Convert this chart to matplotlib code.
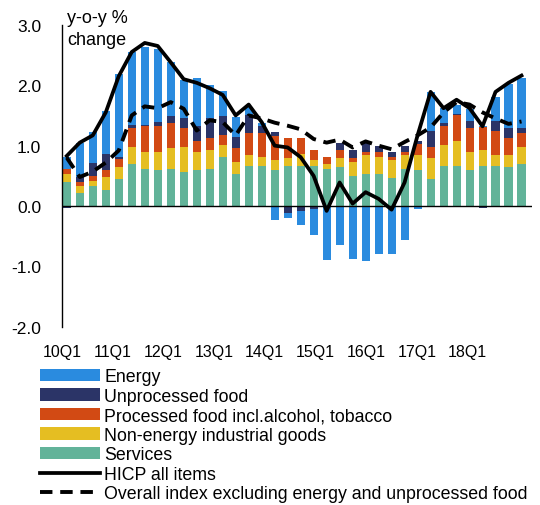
import numpy as np
import matplotlib
matplotlib.use("Agg")
import matplotlib.pyplot as plt

plt.rcParams['font.family'] = ['Liberation Sans', 'DejaVu Sans']

# ----------------------------
# Data (contributions, percentage points)
# ----------------------------
tick_labels = ["10Q1", "11Q1", "12Q1", "13Q1", "14Q1", "15Q1", "16Q1", "17Q1", "18Q1"]

services = [0.39, 0.22, 0.34, 0.27, 0.45, 0.70, 0.61, 0.59, 0.61, 0.56, 0.59, 0.61,
            0.82, 0.53, 0.67, 0.67, 0.59, 0.67, 0.67, 0.67, 0.61, 0.64, 0.50, 0.53,
            0.53, 0.47, 0.61, 0.59, 0.45, 0.67, 0.67, 0.59, 0.67, 0.67, 0.64, 0.70]
neig = [0.14, 0.12, 0.08, 0.21, 0.19, 0.28, 0.29, 0.31, 0.35, 0.42, 0.31, 0.32,
        0.19, 0.20, 0.18, 0.15, 0.17, 0.12, 0.19, 0.09, 0.09, 0.15, 0.23, 0.32,
        0.29, 0.29, 0.24, 0.25, 0.34, 0.34, 0.40, 0.31, 0.26, 0.18, 0.21, 0.28]
processed = [0.08, 0.06, 0.08, 0.11, 0.14, 0.31, 0.42, 0.43, 0.42, 0.31, 0.17, 0.20,
             0.17, 0.23, 0.36, 0.39, 0.40, 0.34, 0.27, 0.17, 0.12, 0.14, 0.06, 0.04,
             0.07, 0.05, 0.04, 0.19, 0.19, 0.31, 0.43, 0.39, 0.38, 0.39, 0.28, 0.23]
unprocessed = [-0.04, 0.08, 0.22, 0.27, 0.04, 0.05, 0.02, 0.06, 0.11, 0.17, 0.25, 0.33,
               0.31, 0.18, 0.29, 0.11, 0.07, -0.12, -0.08, -0.05, 0.00, 0.11, 0.14, 0.18,
               0.11, 0.09, 0.11, 0.05, 0.26, 0.06, 0.03, 0.11, -0.04, 0.16, 0.17, 0.08]
energy = [0.21, 0.56, 0.50, 0.72, 1.37, 1.21, 1.29, 1.21, 0.90, 0.62, 0.80, 0.55,
          0.41, 0.33, 0.14, 0.06, -0.23, -0.08, -0.23, -0.43, -0.90, -0.65, -0.88, -0.91,
          -0.80, -0.80, -0.56, -0.05, 0.65, 0.24, 0.15, 0.20, 0.02, 0.40, 0.72, 0.83]

hicp = [0.83, 1.05, 1.17, 1.55, 2.15, 2.55, 2.70, 2.65, 2.38, 2.10, 2.04, 1.95,
        1.84, 1.50, 1.68, 1.39, 1.00, 0.97, 0.81, 0.50, -0.08, 0.39, 0.04, 0.23,
        0.12, -0.06, 0.39, 1.17, 1.89, 1.62, 1.76, 1.62, 1.32, 1.89, 2.04, 2.16]
core = [0.80, 0.48, 0.57, 0.72, 0.92, 1.50, 1.65, 1.62, 1.72, 1.61, 1.25, 1.42,
        1.39, 1.17, 1.50, 1.45, 1.38, 1.33, 1.27, 1.11, 1.05, 1.10, 0.97, 1.07,
        1.00, 0.94, 1.06, 1.17, 1.30, 1.55, 1.72, 1.68, 1.55, 1.45, 1.36, 1.40]

series = [
    ("Services", services, "#62B399"),
    ("Non-energy industrial goods", neig, "#E5BE22"),
    ("Processed food incl.alcohol, tobacco", processed, "#D24A14"),
    ("Unprocessed food", unprocessed, "#2B3467"),
    ("Energy", energy, "#2A8BDF"),
]

x = np.arange(len(hicp))

# ----------------------------
# Plot
# ----------------------------
fig = plt.figure(figsize=(5.4, 5.06), dpi=100)
ax = fig.add_axes([0.115, 0.352, 0.87, 0.597])

pos_base = np.zeros(len(x))
neg_base = np.zeros(len(x))
bars = {}
for name, vals, color in series:
    vals = np.array(vals)
    bottom = np.where(vals >= 0, pos_base, neg_base)
    bars[name] = ax.bar(x, vals, 0.62, bottom=bottom, color=color, zorder=2)
    pos_base += np.where(vals >= 0, vals, 0)
    neg_base += np.where(vals < 0, vals, 0)

ax.axhline(0, color="black", lw=1, zorder=3)
l1, = ax.plot(x, hicp, color="black", lw=2.7, zorder=4)
l2, = ax.plot(x, core, color="black", lw=2.8, ls=(0, (3.2, 2.0)), zorder=4)

ax.set_ylim(-2, 3)
ax.set_xlim(-0.36, 35.8)
ax.set_yticks(np.arange(-2, 3.1, 1))
ax.set_yticklabels(["%.1f" % v for v in np.arange(-2, 3.1, 1)], fontsize=12.5)
# year labels sit a little left of each year's first quarter
ax.set_xticks(np.arange(len(tick_labels)) * 3.9 - 0.36)
ax.set_xticklabels(tick_labels, fontsize=11.5)
ax.tick_params(axis="y", length=0, pad=15)
ax.tick_params(axis="x", length=0, pad=12)
for s in ["top", "right", "bottom"]:
    ax.spines[s].set_visible(False)
ax.spines["left"].set_linewidth(1)

fig.text(0.124, 0.980, "y-o-y %\nchange", fontsize=13, va="top", ha="left",
         linespacing=1.4)

handles = [bars["Energy"], bars["Unprocessed food"],
           bars["Processed food incl.alcohol, tobacco"],
           bars["Non-energy industrial goods"], bars["Services"], l1, l2]
labels = ["Energy", "Unprocessed food", "Processed food incl.alcohol, tobacco",
          "Non-energy industrial goods", "Services", "HICP all items",
          "Overall index excluding energy and unprocessed food"]
fig.legend(handles, labels, loc="upper left", bbox_to_anchor=(0.074, 0.27),
           frameon=False, fontsize=12.8, handlelength=3.35, handletextpad=0.28,
           labelspacing=0.14, borderpad=0, borderaxespad=0)

fig.savefig("out.png", dpi=100)
